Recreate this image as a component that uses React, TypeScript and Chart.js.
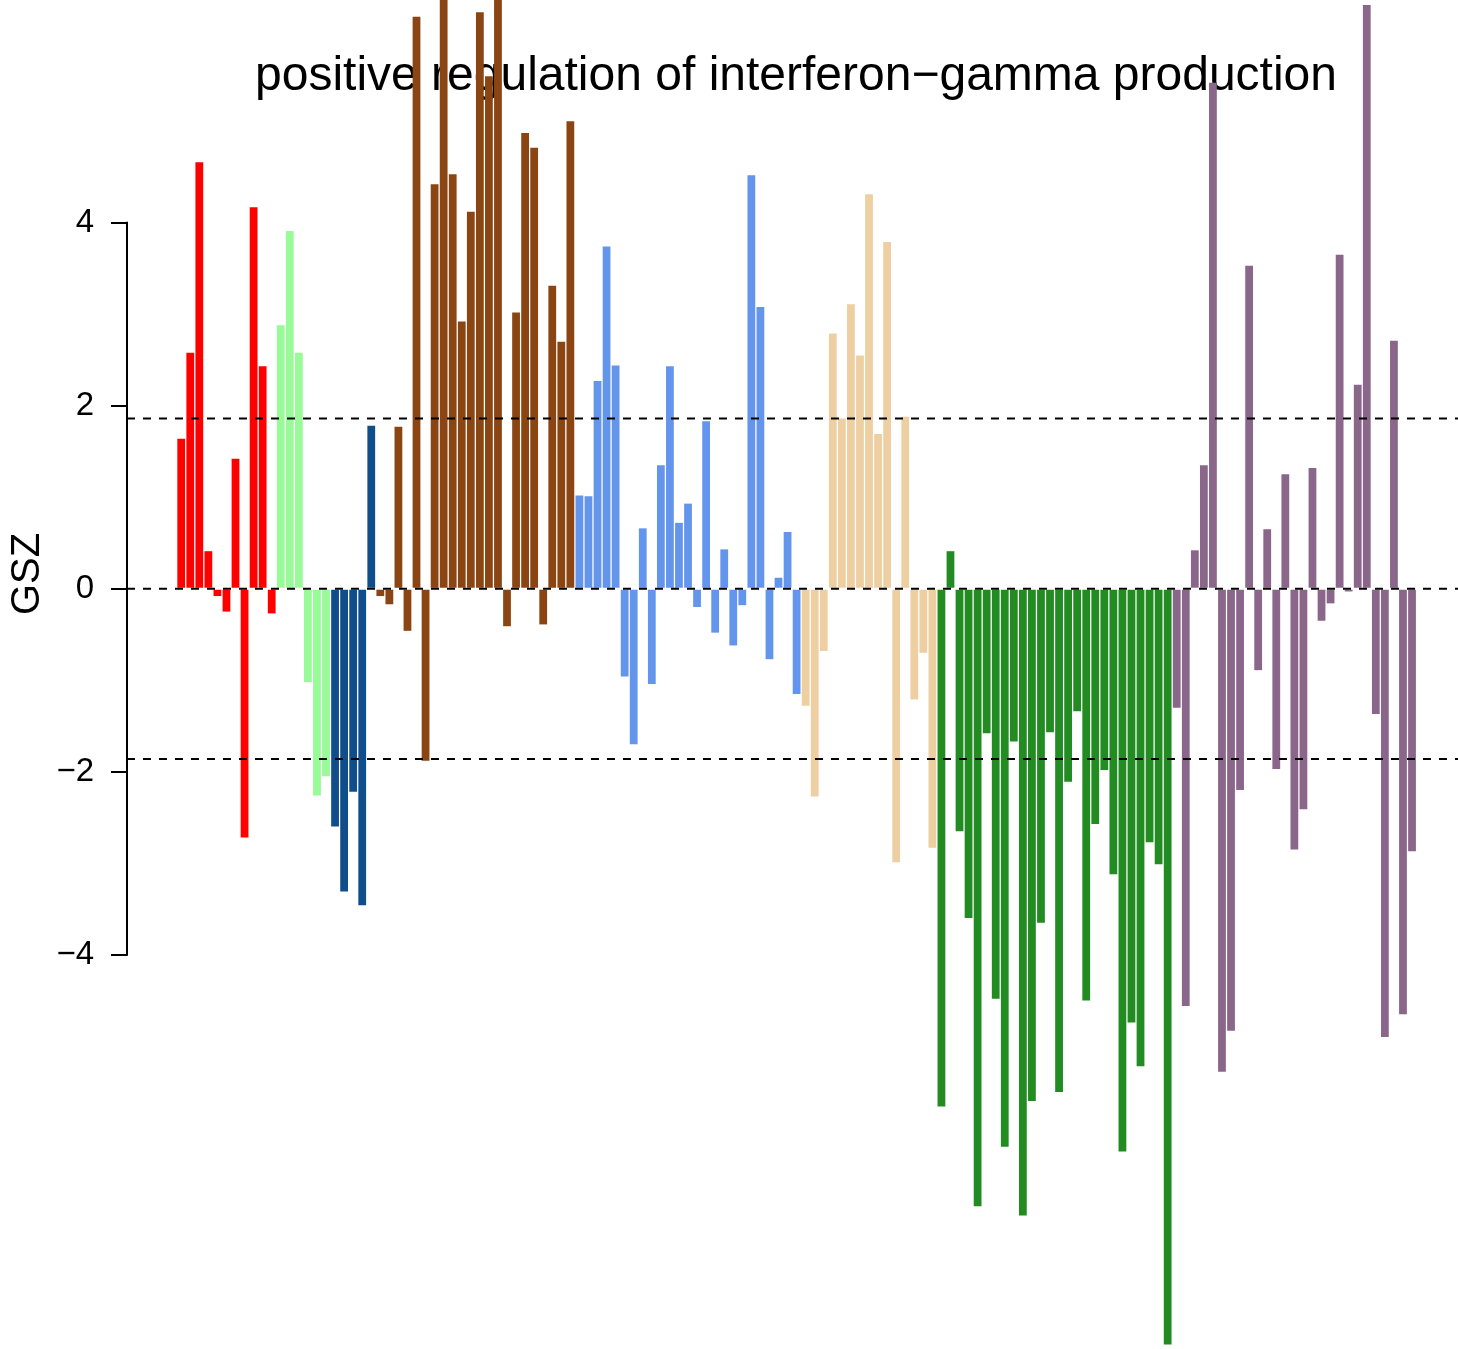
import React, { useEffect, useRef } from "react";
import { Chart, registerables } from "chart.js";

Chart.register(...registerables);

// GSZ values per group
const redValues = [1.64, 2.58, 4.66, 0.41, -0.08, -0.25, 1.42, -2.72, 4.17, 2.43, -0.27];
const paleGreenValues = [2.88, 3.91, 2.58, -1.02, -2.26, -2.05];
const darkBlueValues = [-2.6, -3.31, -2.22, -3.46, 1.78];
const brownValues = [
  -0.08, -0.17, 1.77, -0.46, 6.25, -1.88, 4.42, 7.0, 4.53, 2.92, 4.12, 6.3, 5.6, 7.0, -0.41,
  3.02, 4.98, 4.82, -0.39, 3.31, 2.7, 5.11,
];
const cornflowerValues = [
  1.02, 1.01, 2.27, 3.74, 2.44, -0.96, -1.7, 0.66, -1.04, 1.35, 2.43, 0.72, 0.93, -0.2, 1.83,
  -0.48, 0.43, -0.62, -0.18, 4.52, 3.08, -0.77, 0.12, 0.62, -1.15,
];
const tanValues = [-1.28, -2.27, -0.68, 2.79, 1.86, 3.11, 2.55, 4.31, 1.69, 3.79, -2.99, 1.88, -1.21, -0.7, -2.83];
const forestGreenValues = [
  -5.66, 0.41, -2.65, -3.6, -6.75, -1.58, -4.48, -6.1, -1.67, -6.85, -5.6, -3.65, -1.57, -5.5,
  -2.11, -1.34, -4.5, -2.57, -1.98, -3.12, -6.15, -4.74, -5.22, -2.77, -3.01, -8.26,
];
const plumValues = [
  -1.3, -4.56, 0.42, 1.35, 5.53, -5.28, -4.83, -2.2, 3.53, -0.89, 0.65, -1.97, 1.25, -2.85,
  -2.41, 1.32, -0.35, -0.16, 3.65, -0.03, 2.23, 6.38, -1.37, -4.9, 2.71, -4.65, -2.87,
];

const groupValues = [
  redValues,
  paleGreenValues,
  darkBlueValues,
  brownValues,
  cornflowerValues,
  tanValues,
  forestGreenValues,
  plumValues,
];
const groupColors = ["#FF0000", "#98FB98", "#104E8B", "#8B4513", "#6495ED", "#EECFA1", "#228B22", "#8B668B"];

const yTickValues = [-4, -2, 0, 2, 4];
const thresholdLines = [1.86, 0, -1.86];
const titleText = "positive regulation of interferon\u2212gamma production";
const yAxisTitle = "GSZ";

const FONT = '"Liberation Sans", Arial, Helvetica, sans-serif';

export default function App() {
  const canvasRef = useRef<HTMLCanvasElement | null>(null);

  useEffect(() => {
    const canvas = canvasRef.current;
    if (!canvas) return;

    const values = groupValues.flat();
    const colors = groupValues.flatMap((g, gi) => g.map(() => groupColors[gi]));
    const points = values.map((v, i) => ({ x: i + 1, y: v }));

    const overlay = {
      id: "overlay",
      beforeDatasetsDraw(chart: any) {
        const ctx = chart.ctx as CanvasRenderingContext2D;
        ctx.save();
        ctx.fillStyle = "#000";
        ctx.font = `48px ${FONT}`;
        ctx.textAlign = "center";
        ctx.textBaseline = "alphabetic";
        ctx.fillText(titleText, 796, 89.5);
        ctx.translate(27.5, 574);
        ctx.rotate(-Math.PI / 2);
        ctx.font = `40px ${FONT}`;
        ctx.textBaseline = "middle";
        ctx.fillText(yAxisTitle, 0, 0);
        ctx.restore();
      },
      afterDatasetsDraw(chart: any) {
        const ctx = chart.ctx as CanvasRenderingContext2D;
        const area = chart.chartArea;
        const y = chart.scales.y;
        ctx.save();
        ctx.strokeStyle = "#000";
        ctx.lineWidth = 2;
        ctx.setLineDash([8, 8]);
        for (const t of thresholdLines) {
          const py = y.getPixelForValue(t);
          ctx.beginPath();
          ctx.moveTo(area.left, py);
          ctx.lineTo(area.right, py);
          ctx.stroke();
        }
        ctx.setLineDash([]);
        const top = y.getPixelForValue(yTickValues[yTickValues.length - 1]);
        const bot = y.getPixelForValue(yTickValues[0]);
        ctx.beginPath();
        ctx.moveTo(area.left, top - 1);
        ctx.lineTo(area.left, bot + 1);
        ctx.stroke();
        ctx.restore();
      },
    };

    const chart = new Chart(canvas, {
      type: "bar",
      data: {
        datasets: [
          {
            data: points as any,
            backgroundColor: colors,
            borderWidth: 0,
            barPercentage: 0.86,
            categoryPercentage: 1.0,
          },
        ],
      },
      options: {
        animation: false,
        responsive: false,
        devicePixelRatio: 1,
        events: [],
        layout: { padding: 0 },
        plugins: {
          legend: { display: false },
          tooltip: { enabled: false },
          title: { display: false },
        },
        scales: {
          x: {
            type: "linear",
            display: false,
            offset: false,
            min: -4.99,
            max: 142.08,
          },
          y: {
            type: "linear",
            min: -8.309,
            max: 6.434,
            afterBuildTicks: (scale: any) => {
              scale.ticks = yTickValues.map((v) => ({ value: v }));
            },
            afterFit: (scale: any) => {
              scale.width = 127;
              scale.paddingTop = 0;
              scale.paddingBottom = 0;
            },
            border: { display: false },
            grid: {
              drawOnChartArea: false,
              drawTicks: true,
              tickLength: 16,
              color: "#000",
              lineWidth: 2,
            },
            ticks: {
              autoSkip: false,
              padding: 17,
              color: "#000",
              font: { family: FONT, size: 33 },
              callback: (v: any) => (Number(v) < 0 ? "\u2212" + Math.abs(Number(v)) : String(v)),
            },
          },
        },
      },
      plugins: [overlay],
    });

    return () => chart.destroy();
  }, []);

  return (
    <div style={{ position: "fixed", left: 0, top: 0, width: 1458, height: 1349, background: "#fff" }}>
      <canvas ref={canvasRef} width={1458} height={1349} style={{ display: "block" }} />
    </div>
  );
}
